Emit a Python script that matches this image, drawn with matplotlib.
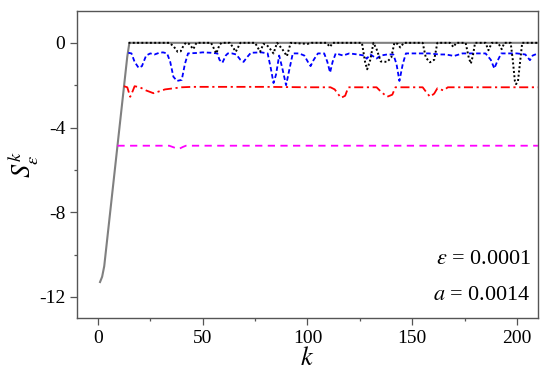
import matplotlib
matplotlib.use("Agg")
from matplotlib import pyplot as plt
from matplotlib.ticker import MultipleLocator

plt.rcParams["font.family"] = ["Liberation Serif", "DejaVu Serif"]
plt.rcParams["mathtext.fontset"] = "stix"
plt.rcParams["axes.unicode_minus"] = False

# common rising part (k = 1..15), drawn by the solid gray curve
rise_k = [1, 2, 3, 4, 5, 6, 7, 8, 9, 10, 11, 12, 13, 14, 15]
rise_v = [-11.3, -11.05, -10.55, -9.65, -8.75, -7.85, -6.95, -6.05, -5.15,
          -4.25, -3.35, -2.45, -1.55, -0.65, 0.0]

# solid gray
gray_k = rise_k + [210]
gray_v = rise_v + [0.0]

# black dotted (from where it leaves the rise)
black_k = [14.6, 34, 36, 38, 39.5, 41, 42, 43.5, 45.5, 47, 54, 56.5, 58, 59, 63, 65.8, 68,
           75, 77.4, 79, 80.5, 81.5, 83.8, 85.5, 88, 90.2, 92, 100, 102, 109, 110.8,
           112, 126, 127.5, 128.5, 130, 131.5, 133, 135, 138, 140, 141.5, 143, 144.3,
           146, 155, 156.5, 158.5, 160.5, 162, 168, 169.7, 171, 175.5, 177, 178, 179,
           180, 185, 186.4, 188, 191, 192.7, 194, 197, 198, 199, 199.6, 200.5, 201.5,
           202.5, 210]
black_v = [0.0, 0.0, -0.15, -0.42, -0.4, -0.1, 0.0, -0.05, -0.3, 0.0, 0.0, -0.5, -0.1, 0.0,
           0.0, -0.42, 0.0, 0.0, -0.42, -0.05, -0.1, -0.2, -0.5, 0.0, -0.3, -0.63, 0.0,
           -0.05, 0.0, 0.0, -0.19, 0.0, 0.0, -0.9, -1.25, -0.8, 0.0, -0.3, -0.88, -0.9,
           -0.7, 0.0, -0.05, -0.22, 0.0, 0.0, -0.7, -0.92, -0.8, 0.0, 0.0, -0.2, 0.0,
           0.0, -0.7, -0.98, -0.6, 0.0, 0.0, -0.35, 0.0, 0.0, -0.3, 0.0, 0.0, -0.8,
           -1.8, -1.95, -1.8, -0.9, 0.0, 0.0]

# blue dashed
blue_k = [14.5, 16, 17.5, 19.4, 21, 23, 25, 27, 29, 31, 33, 34.5, 36, 37.7, 40, 41.5, 43,
          47, 50, 54, 57, 58, 59.4, 61, 62, 64, 66, 68, 69.5, 71, 73, 78, 81, 82.5,
          83.8, 85, 86.5, 88, 89.8, 91.5, 93, 96, 98.5, 100.5, 101.5, 103, 105, 108,
          109.5, 110.8, 112, 113.5, 117, 120, 124, 127, 128.3, 130, 133, 135, 138, 141,
          142.5, 143.9, 145.5, 147, 152, 158, 163, 166, 170, 174, 180, 185, 187.5,
          189.2, 190.5, 192.5, 196, 200, 204, 206.2, 207.5, 210]
blue_v = [-0.47, -0.5, -0.9, -1.18, -1.1, -0.6, -0.5, -0.55, -0.48, -0.45, -0.5, -0.9,
          -1.6, -1.8, -1.75, -1.0, -0.5, -0.48, -0.45, -0.47, -0.5, -0.8, -0.94, -0.6,
          -0.5, -0.5, -0.55, -0.8, -0.9, -0.7, -0.47, -0.45, -0.5, -1.2, -1.9, -1.5,
          -0.6, -1.2, -2.0, -1.2, -0.5, -0.5, -0.6, -0.95, -1.1, -0.8, -0.5, -0.5, -0.9,
          -1.4, -0.9, -0.5, -0.6, -0.5, -0.55, -0.6, -0.75, -0.55, -0.74, -0.6, -0.55,
          -0.55, -1.0, -1.8, -1.0, -0.5, -0.5, -0.5, -0.55, -0.55, -0.62, -0.5, -0.5,
          -0.5, -0.8, -1.21, -0.9, -0.5, -0.5, -0.5, -0.55, -0.82, -0.6, -0.5]

# red dash-dot
red_k = [12.4, 14, 15.4, 16.5, 17.5, 20, 23, 26.5, 29, 32, 36, 40, 45, 60, 80, 100, 111,
         113, 116, 118, 119.5, 133, 135, 138, 140.5, 142, 155, 156.5, 158.5, 160.5,
         162, 163.5, 165, 167, 210]
red_v = [-2.05, -2.1, -2.55, -2.3, -2.05, -2.1, -2.25, -2.38, -2.3, -2.2, -2.15, -2.1,
         -2.08, -2.08, -2.08, -2.1, -2.1, -2.2, -2.6, -2.5, -2.1, -2.1, -2.3, -2.55,
         -2.45, -2.1, -2.1, -2.3, -2.55, -2.4, -2.15, -2.2, -2.25, -2.1, -2.1]

# magenta dashed
mag_k = [9.3, 34, 36.5, 38.5, 40.5, 42, 210]
mag_v = [-4.86, -4.86, -4.95, -5.02, -4.92, -4.86, -4.86]

fig = plt.figure(figsize=(5.5, 3.82), dpi=100)
ax = fig.add_axes([0.14, 0.1675, 0.838, 0.8035])

ax.plot(gray_k, gray_v, color="#808080", lw=1.5)
ax.plot(mag_k, mag_v, color="#ff00ff", lw=1.3, dashes=(4, 3))
ax.plot(red_k, red_v, color="#ff0000", lw=1.3, dashes=(5, 2, 1.2, 2))
ax.plot(blue_k, blue_v, color="#0000ff", lw=1.3, dashes=(2.5, 1.5))
ax.plot(black_k, black_v, color="black", lw=1.4, dashes=(1, 1.2))

ax.set_xlim(-10, 210)
ax.set_ylim(-13, 1.5)
ax.xaxis.set_major_locator(MultipleLocator(50))
ax.xaxis.set_minor_locator(MultipleLocator(25))
ax.yaxis.set_minor_locator(MultipleLocator(2))
ax.set_yticks([0, -4, -8, -12])
ax.set_yticklabels(["0", "-4", "-8", "-12"])

for s in ax.spines.values():
    s.set_color("#555555")
    s.set_linewidth(1.0)
ax.tick_params(which="major", length=5, width=0.9, color="#555555", labelsize=14, direction="out")
ax.tick_params(which="minor", length=2.5, width=0.9, color="#555555", direction="out")

ax.set_xlabel(r"$k$", fontsize=19, labelpad=0)
ax.set_ylabel(r"$S_{\varepsilon}^{k}$", fontsize=19, ha="center", va="center")
ax.yaxis.set_label_coords(-0.115, 0.5)

ax.text(0.985, 0.175, r"$\varepsilon$ = 0.0001", transform=ax.transAxes,
        ha="right", va="baseline", fontsize=16)
ax.text(0.985, 0.06, r"$a$ = 0.0014", transform=ax.transAxes,
        ha="right", va="baseline", fontsize=16)

fig.savefig("out.png", dpi=100)
